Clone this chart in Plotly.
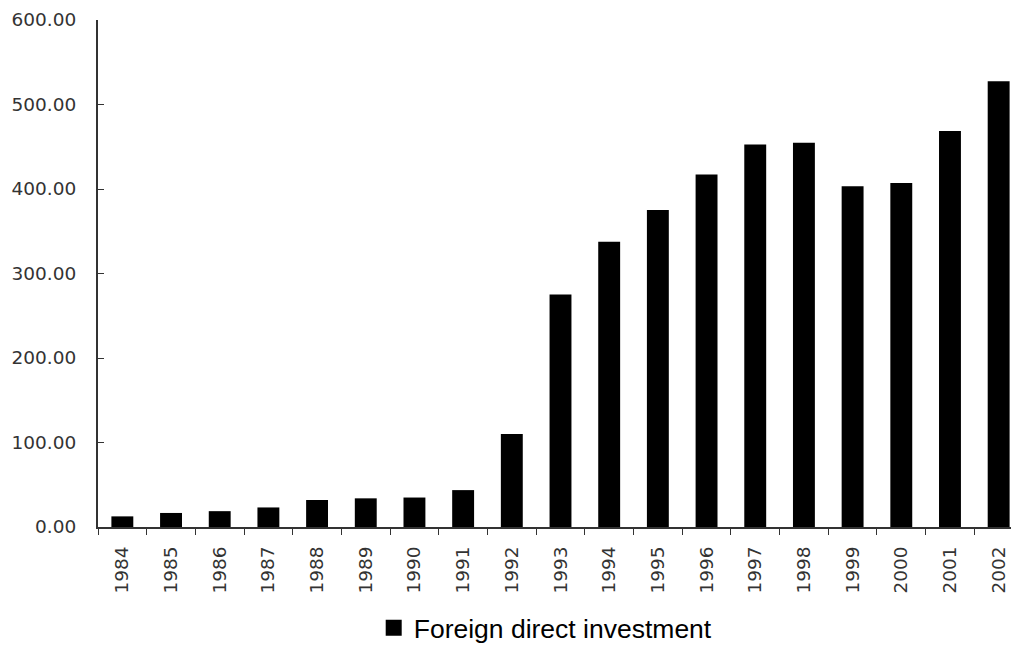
import plotly.graph_objects as go

# ── Data ──────────────────────────────────────────────────────────────────
YEARS = [str(y) for y in range(1984, 2003)]
FDI = [12.58, 16.61, 18.74, 23.14, 31.94, 33.92, 34.87, 43.66, 110.07, 275.15,
       337.67, 375.21, 417.26, 452.57, 454.63, 403.19, 407.15, 468.78, 527.43]
Y_TICKS = [0, 100, 200, 300, 400, 500, 600]
Y_TICKTEXT = [f"{v:.2f}" for v in Y_TICKS]
SERIES_NAME = "Foreign direct investment"

AXIS_FONT = dict(family="DejaVu Sans, sans-serif", size=18.5, color="#333333")

fig = go.Figure()
fig.add_trace(go.Bar(
    x=YEARS, y=FDI,
    name=SERIES_NAME,
    marker=dict(color="#000000", line=dict(width=0)),
    showlegend=False,
))
# legend entry only (bigger square swatch than the bar default)
fig.add_trace(go.Scatter(
    x=[None], y=[None], mode="markers", name=SERIES_NAME,
    marker=dict(symbol="square", size=22, color="#000000"),
))

# page body has an 8px margin -> margins are shifted by 8px, right side overflows
fig.update_layout(
    width=1019, height=647,
    plot_bgcolor="white", paper_bgcolor="white",
    margin=dict(l=90, r=4, t=12, b=127),
    bargap=0.55,
    showlegend=True,
    legend=dict(
        orientation="h", x=0.484, xanchor="center", y=-0.197, yanchor="middle",
        itemsizing="trace",
        font=dict(family="Liberation Sans, Arial, sans-serif", size=26.5, color="#000000"),
    ),
    xaxis=dict(
        type="category",
        tickangle=-90, tickfont=AXIS_FONT, automargin=False,
        showline=True, linecolor="#333333", linewidth=2,
        ticks="outside", ticklen=6, tickcolor="#333333", tickson="boundaries",
        ticklabelstandoff=10,
        showgrid=False, zeroline=False,
    ),
    yaxis=dict(
        range=[0, 600], tickvals=Y_TICKS, ticktext=Y_TICKTEXT, tickfont=AXIS_FONT,
        automargin=False, ticklabeloverflow="allow",
        showline=True, linecolor="#333333", linewidth=2,
        ticks="inside", ticklen=6, tickcolor="#333333",
        ticklabelstandoff=16,
        showgrid=False, zeroline=False,
    ),
)

fig.write_html("out.html")
